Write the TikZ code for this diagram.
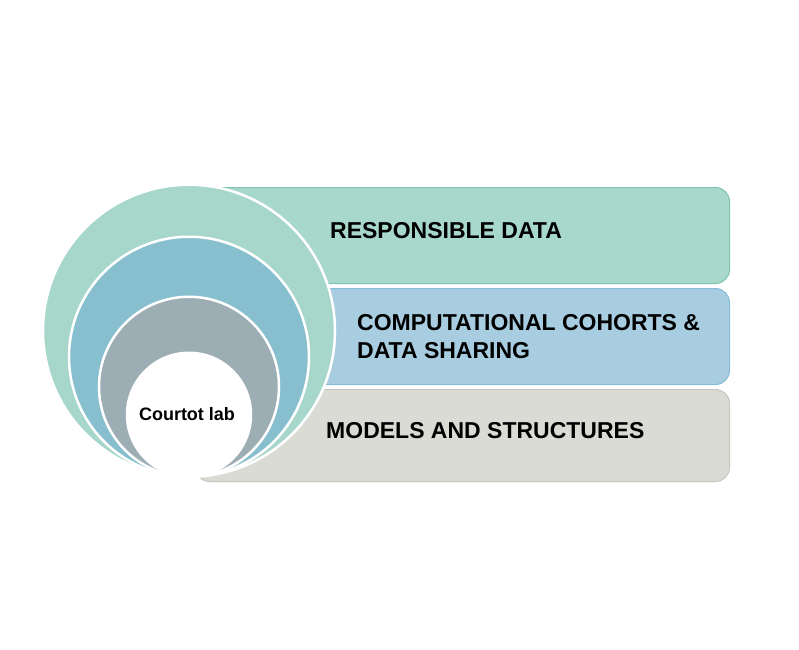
\documentclass[tikz,border=0pt]{standalone}
\usepackage{fontspec}
\setmainfont{Liberation Sans}
\usepackage{tikz}
\usetikzlibrary{positioning}
\usepackage{xcolor}

\definecolor{respfill}{HTML}{A8D8CB}
\definecolor{respline}{HTML}{7FC3AF}
\definecolor{cohortfill}{HTML}{A8CDE1}
\definecolor{cohortline}{HTML}{87BCD8}
\definecolor{modelfill}{HTML}{DBDBD6}
\definecolor{modelline}{HTML}{C6C6C1}
\definecolor{ringouter}{HTML}{A7D6CA}
\definecolor{ringmiddle}{HTML}{87BFCF}
\definecolor{ringinner}{HTML}{9CADB3}

\begin{document}
\begin{tikzpicture}[
    x = 1pt, y = -1pt,
    bar/.style = {
        rectangle, line width = 1pt,
        rounded corners = 14pt,
        minimum width  = 534pt,
        minimum height = 96pt,
        inner sep = 0pt
    },
    ring/.style = {
        circle, draw = white, line width = 2.5pt,
        inner sep = 0pt, anchor = south
    },
    bartext/.style = {
        anchor = west, align = left, inner sep = 0pt,
        font = \bfseries\fontsize{23}{28.5}\selectfont
    },
]
\useasboundingbox (0,0) rectangle (799,649);

%% ── Bars ─────────────────────────────────────────────────────────────────
\node[bar, fill=respfill, draw=respline, anchor=north west] (resp) at (195,187) {};
\node[bar, fill=cohortfill, draw=cohortline, below=4pt of resp] (cohort) {};
\node[bar, fill=modelfill, draw=modelline, minimum height=92pt,
      below=4pt of cohort] (model) {};

%% ── Nested circles, all touching at the bottom ──────────────────────────
\coordinate (base) at (189,478);
\node[ring, fill=ringouter,  minimum size=292pt] (outer)  at (base) {};
\node[ring, fill=ringmiddle, minimum size=240pt] (middle) at (base) {};
\node[ring, fill=ringinner,  minimum size=180pt] (inner)  at (base) {};
\node[ring, fill=white,      minimum size=124pt] (core)   at (base) {};

%% ── Labels ───────────────────────────────────────────────────────────────
\node[font=\bfseries\fontsize{18}{22}\selectfont, inner sep=0pt]
    (lab) at ([xshift=-2pt, yshift=1pt] core.center) {Courtot lab};

\node[bartext] (resptext) at ([xshift=135pt, yshift=5pt] resp.west)
    {RESPONSIBLE DATA};
\node[bartext] (cohorttext) at ([xshift=162pt] cohort.west)
    {COMPUTATIONAL COHORTS \&\\DATA SHARING};
\node[bartext] (modeltext) at ([xshift=131pt, yshift=5pt] model.west)
    {MODELS AND STRUCTURES};

\end{tikzpicture}
\end{document}
